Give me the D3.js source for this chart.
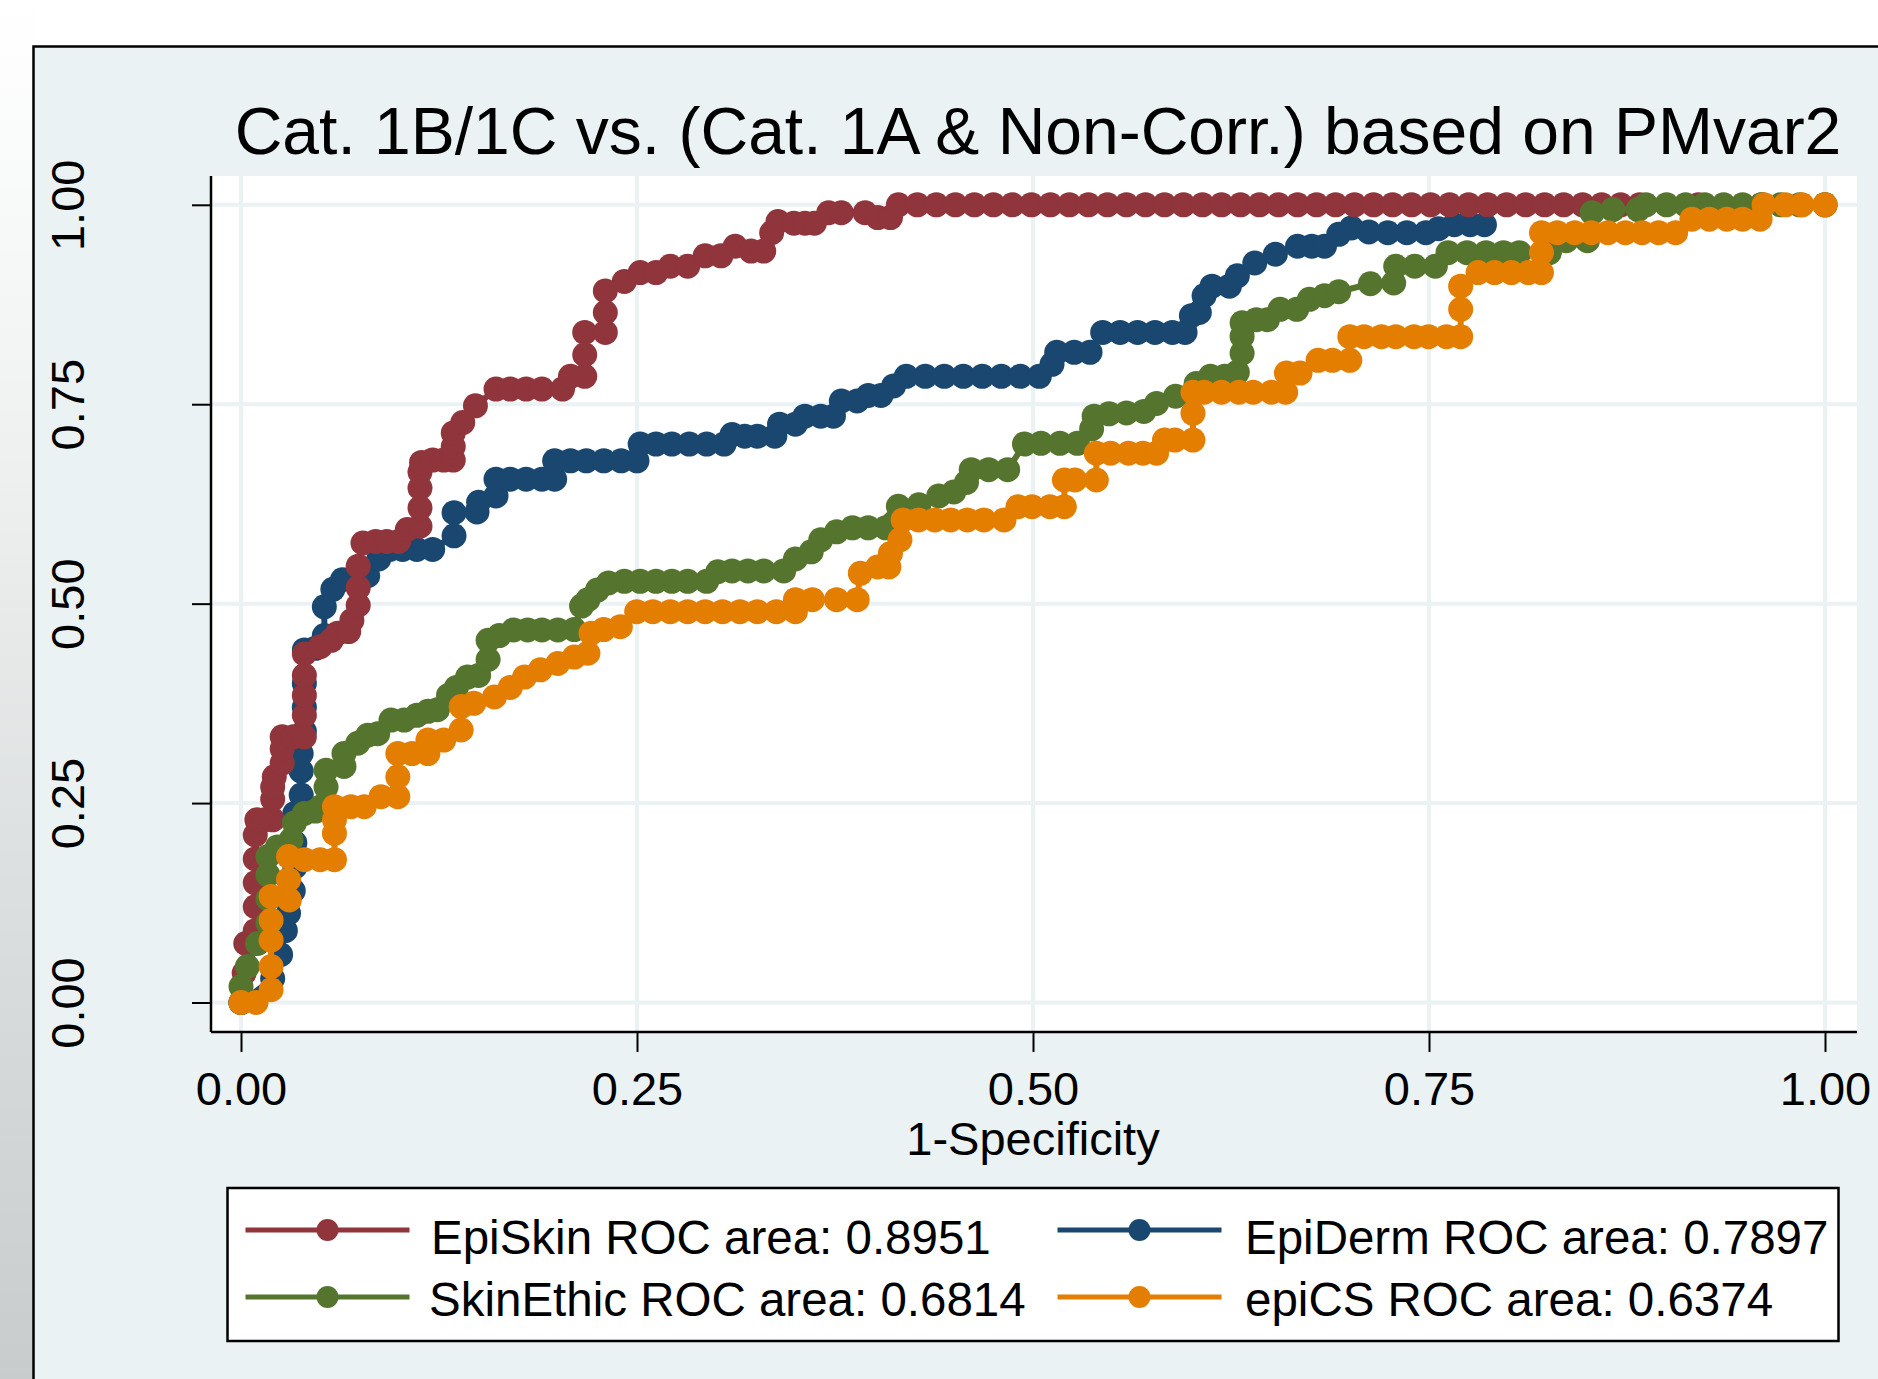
<!DOCTYPE html>
<html>
<head>
<meta charset="utf-8">
<script src="https://cdn.jsdelivr.net/npm/d3@7"></script>
<style>
  html, body { margin: 0; padding: 0; background: #ffffff; }
  svg { display: block; }
  text { font-family: "Liberation Sans", Arial, sans-serif; fill: #000; }
</style>
</head>
<body>
<svg id="chart" width="1878" height="1379"></svg>
<script>
// ---------------- DATA ----------------
const chartTitle = "Cat. 1B/1C vs. (Cat. 1A & Non-Corr.) based on PMvar2";
const xAxisTitle = "1-Specificity";
const xTickValues = [0, 0.25, 0.5, 0.75, 1];
const xTickLabels = ["0.00", "0.25", "0.50", "0.75", "1.00"];
const yTickValues = [0, 0.25, 0.5, 0.75, 1];
const yTickLabels = ["0.00", "0.25", "0.50", "0.75", "1.00"];

const seriesNames = ["EpiSkin", "EpiDerm", "SkinEthic", "epiCS"];
const rocAreas = ["0.8951", "0.7897", "0.6814", "0.6374"];
const seriesColors = ["#90353B", "#1A476F", "#55752F", "#E37E00"];

// [1-specificity, sensitivity]
const epiSkin = [
  [0,0],[0.002,0.037],[0.003,0.074],[0.009,0.09],[0.009,0.12],[0.009,0.15],[0.009,0.18],[0.009,0.21],
  [0.010,0.229],[0.015,0.229],[0.020,0.229],[0.020,0.255],[0.020,0.27],[0.021,0.283],[0.026,0.30],
  [0.026,0.318],[0.026,0.333],[0.033,0.333],[0.040,0.333],[0.040,0.36],[0.040,0.385],[0.040,0.41],
  [0.040,0.437],[0.050,0.446],[0.057,0.454],[0.061,0.463],[0.068,0.465],[0.070,0.479],[0.074,0.498],
  [0.074,0.52],[0.074,0.547],[0.077,0.576],[0.085,0.578],[0.092,0.578],[0.0995,0.578],[0.105,0.593],
  [0.113,0.597],[0.113,0.62],[0.113,0.645],[0.113,0.665],[0.114,0.677],[0.121,0.68],[0.128,0.68],
  [0.134,0.68],[0.134,0.697],[0.134,0.714],[0.140,0.727],[0.148,0.748],[0.161,0.769],[0.170,0.769],
  [0.180,0.769],[0.190,0.769],[0.203,0.769],[0.208,0.785],[0.217,0.785],[0.217,0.812],[0.217,0.84],
  [0.230,0.84],[0.230,0.865],[0.230,0.892],[0.242,0.904],[0.252,0.915],[0.262,0.915],[0.271,0.923],
  [0.282,0.923],[0.293,0.936],[0.303,0.936],[0.312,0.948],[0.322,0.942],[0.330,0.942],[0.335,0.965],
  [0.339,0.979],[0.349,0.977],[0.356,0.977],[0.362,0.977],[0.371,0.990],[0.379,0.990],[0.394,0.990],
  [0.402,0.984],[0.410,0.984],[0.415,1.0],[0.427,1.0],[0.439,1.0],[0.451,1.0],[0.463,1.0],[0.475,1.0],
  [0.487,1.0],[0.499,1.0],[0.511,1.0],[0.523,1.0],[0.535,1.0],[0.547,1.0],[0.559,1.0],[0.571,1.0],
  [0.583,1.0],[0.595,1.0],[0.607,1.0],[0.619,1.0],[0.631,1.0],[0.643,1.0],[0.655,1.0],[0.667,1.0],
  [0.679,1.0],[0.691,1.0],[0.703,1.0],[0.715,1.0],[0.727,1.0],[0.739,1.0],[0.751,1.0],[0.763,1.0],
  [0.775,1.0],[0.787,1.0],[0.799,1.0],[0.811,1.0],[0.823,1.0],[0.835,1.0],[0.847,1.0],[0.859,1.0],
  [0.871,1.0],[0.883,1.0],[0.92,1.0],[0.96,1.0],[1.0,1.0]
];

const epiDerm = [
  [0,0],[0.020,0.03],[0.025,0.06],[0.028,0.09],[0.030,0.112],[0.033,0.14],[0.034,0.17],[0.034,0.20],
  [0.034,0.237],[0.038,0.26],[0.038,0.29],[0.038,0.312],[0.040,0.34],[0.040,0.37],[0.040,0.40],
  [0.040,0.442],[0.047,0.444],[0.0526,0.46],[0.0526,0.496],[0.058,0.518],[0.064,0.530],[0.072,0.535],
  [0.080,0.535],[0.087,0.556],[0.094,0.568],[0.102,0.568],[0.111,0.568],[0.121,0.568],[0.1345,0.585],
  [0.1345,0.614],[0.149,0.615],[0.150,0.627],[0.161,0.635],[0.161,0.656],[0.170,0.656],[0.180,0.656],
  [0.190,0.656],[0.198,0.656],[0.198,0.679],[0.208,0.679],[0.218,0.679],[0.229,0.679],[0.240,0.679],
  [0.250,0.679],[0.252,0.700],[0.262,0.700],[0.272,0.700],[0.283,0.700],[0.294,0.700],[0.305,0.700],
  [0.310,0.712],[0.318,0.710],[0.326,0.710],[0.337,0.710],[0.340,0.725],[0.350,0.725],[0.356,0.735],
  [0.366,0.735],[0.374,0.735],[0.379,0.754],[0.389,0.754],[0.396,0.761],[0.404,0.761],[0.412,0.773],
  [0.420,0.785],[0.432,0.785],[0.444,0.785],[0.456,0.785],[0.468,0.785],[0.480,0.785],[0.492,0.785],
  [0.504,0.785],[0.512,0.800],[0.515,0.815],[0.526,0.815],[0.536,0.815],[0.544,0.840],[0.555,0.840],
  [0.566,0.840],[0.577,0.840],[0.588,0.840],[0.596,0.840],[0.600,0.861],[0.605,0.865],[0.608,0.886],
  [0.613,0.898],[0.624,0.898],[0.629,0.911],[0.640,0.927],[0.653,0.938],[0.667,0.948],[0.676,0.948],
  [0.684,0.948],[0.693,0.963],[0.701,0.971],[0.712,0.966],[0.724,0.965],[0.736,0.965],[0.748,0.965],
  [0.756,0.970],[0.766,0.975],[0.776,0.975],[0.785,0.975]
];

const skinEthic = [
  [0,0],[0,0.02],[0.004,0.045],[0.0105,0.074],[0.017,0.10],[0.017,0.13],[0.017,0.16],[0.017,0.183],
  [0.023,0.195],[0.0316,0.204],[0.0337,0.225],[0.040,0.237],[0.047,0.24],[0.0505,0.2455],[0.0537,0.27],
  [0.0537,0.291],[0.065,0.296],[0.065,0.312],[0.0737,0.325],[0.080,0.335],[0.0863,0.337],[0.0947,0.354],
  [0.103,0.354],[0.111,0.360],[0.118,0.365],[0.124,0.367],[0.131,0.385],[0.136,0.395],[0.143,0.408],
  [0.150,0.410],[0.156,0.43],[0.156,0.454],[0.163,0.460],[0.172,0.467],[0.181,0.467],[0.190,0.467],
  [0.200,0.467],[0.2104,0.4675],[0.215,0.497],[0.219,0.505],[0.225,0.517],[0.232,0.526],[0.242,0.528],
  [0.252,0.528],[0.262,0.528],[0.272,0.528],[0.282,0.528],[0.294,0.528],[0.301,0.540],[0.310,0.541],
  [0.320,0.541],[0.330,0.541],[0.3426,0.541],[0.350,0.556],[0.360,0.565],[0.366,0.580],[0.376,0.590],
  [0.386,0.595],[0.396,0.595],[0.407,0.595],[0.412,0.601],[0.415,0.622],[0.428,0.624],[0.4405,0.635],
  [0.450,0.640],[0.458,0.652],[0.461,0.668],[0.472,0.668],[0.484,0.668],[0.4946,0.700],[0.505,0.701],
  [0.517,0.701],[0.528,0.701],[0.537,0.719],[0.5386,0.735],[0.548,0.738],[0.559,0.739],[0.570,0.741],
  [0.578,0.751],[0.590,0.760],[0.603,0.776],[0.612,0.785],[0.621,0.785],[0.629,0.790],[0.632,0.814],
  [0.632,0.835],[0.632,0.852],[0.641,0.856],[0.648,0.856],[0.656,0.869],[0.6665,0.869],[0.6745,0.8815],
  [0.684,0.886],[0.693,0.891],[0.713,0.901],[0.7277,0.902],[0.729,0.923],[0.741,0.923],[0.754,0.923],
  [0.762,0.940],[0.774,0.940],[0.786,0.940],[0.797,0.940],[0.807,0.940],[0.826,0.940],[0.8366,0.955],
  [0.850,0.955],[0.853,0.990],[0.866,0.994],[0.882,0.994],[0.887,1.0],[0.900,1.0],[0.912,1.0],
  [0.924,1.0],[0.936,1.0],[0.948,1.0],[0.960,1.0],[0.972,1.0],[0.984,1.0],[1.0,1.0]
];

const epiCS = [
  [0,0],[0.0095,0],[0.019,0.016],[0.019,0.045],[0.019,0.078],[0.019,0.103],[0.019,0.133],[0.0305,0.1285],
  [0.030,0.154],[0.030,0.183],[0.040,0.179],[0.050,0.179],[0.059,0.179],[0.059,0.212],[0.059,0.229],
  [0.059,0.2455],[0.0694,0.2455],[0.0778,0.2455],[0.0884,0.258],[0.099,0.258],[0.099,0.283],[0.099,0.312],
  [0.108,0.312],[0.118,0.312],[0.118,0.329],[0.128,0.329],[0.139,0.3416],[0.139,0.371],[0.147,0.375],
  [0.160,0.383],[0.170,0.395],[0.179,0.408],[0.189,0.417],[0.200,0.425],[0.2104,0.433],[0.219,0.4378],
  [0.221,0.463],[0.229,0.4675],[0.2395,0.471],[0.2498,0.490],[0.260,0.490],[0.271,0.490],[0.282,0.490],
  [0.293,0.490],[0.304,0.490],[0.315,0.490],[0.326,0.490],[0.338,0.490],[0.350,0.490],[0.350,0.505],
  [0.3607,0.505],[0.376,0.505],[0.389,0.505],[0.391,0.538],[0.402,0.546],[0.409,0.546],[0.410,0.563],
  [0.416,0.580],[0.418,0.605],[0.4277,0.605],[0.438,0.605],[0.448,0.605],[0.4585,0.605],[0.469,0.605],
  [0.4817,0.605],[0.4905,0.6215],[0.4994,0.6215],[0.5107,0.6215],[0.5198,0.6215],[0.5198,0.655],
  [0.5265,0.655],[0.540,0.655],[0.540,0.6885],[0.549,0.6885],[0.5603,0.6885],[0.5694,0.6885],[0.578,0.6885],
  [0.583,0.705],[0.5896,0.705],[0.601,0.705],[0.601,0.7386],[0.601,0.765],[0.608,0.765],[0.619,0.765],
  [0.630,0.765],[0.639,0.765],[0.6505,0.765],[0.6595,0.765],[0.660,0.789],[0.6686,0.789],[0.680,0.805],
  [0.689,0.805],[0.700,0.805],[0.700,0.8347],[0.709,0.8347],[0.720,0.8347],[0.729,0.8347],[0.7405,0.8347],
  [0.7497,0.8347],[0.761,0.8347],[0.770,0.8347],[0.770,0.869],[0.770,0.898],[0.781,0.915],[0.7914,0.915],
  [0.802,0.915],[0.8127,0.915],[0.821,0.915],[0.821,0.940],[0.821,0.965],[0.831,0.965],[0.842,0.965],
  [0.8525,0.965],[0.863,0.965],[0.874,0.965],[0.8845,0.965],[0.895,0.965],[0.9057,0.965],[0.916,0.982],
  [0.927,0.982],[0.938,0.982],[0.948,0.982],[0.959,0.982],[0.9615,1.0],[0.975,1.0],[0.9855,1.0],[1.0,1.0]
];

const seriesData = [epiSkin, epiDerm, skinEthic, epiCS];
// drawing order (back to front) as seen in the picture
const drawOrder = [1, 0, 2, 3];

// ---------------- LAYOUT ----------------
const W = 1878, H = 1379;
const svg = d3.select("#chart");
const panelBg = "#EAF2F3";

const defs = svg.append("defs");
const lg = defs.append("linearGradient").attr("id", "leftStrip")
  .attr("x1", 0).attr("y1", 0).attr("x2", 0).attr("y2", 1);
lg.append("stop").attr("offset", "0%").attr("stop-color", "#ffffff");
lg.append("stop").attr("offset", "25%").attr("stop-color", "#f3f5f5");
lg.append("stop").attr("offset", "70%").attr("stop-color", "#d9dcdc");
lg.append("stop").attr("offset", "100%").attr("stop-color", "#c9cccc");
svg.append("rect").attr("x", 0).attr("y", 0).attr("width", W).attr("height", H).attr("fill", "#ffffff");
svg.append("rect").attr("x", 0).attr("y", 0).attr("width", 34).attr("height", H).attr("fill", "url(#leftStrip)");

// graph region panel
svg.append("rect")
  .attr("x", 33.5).attr("y", 46.5)
  .attr("width", W).attr("height", H)
  .attr("fill", panelBg).attr("stroke", "#000").attr("stroke-width", 2.5);

// plot region
const plotLeft = 211, plotRight = 1857, plotTop = 176, plotBottom = 1032;
svg.append("rect")
  .attr("x", plotLeft).attr("y", plotTop)
  .attr("width", plotRight - plotLeft).attr("height", plotBottom - plotTop)
  .attr("fill", "#ffffff");

const x = d3.scaleLinear().domain([0, 1]).range([241, 1825]);
const y = d3.scaleLinear().domain([0, 1]).range([1002.5, 204.8]);

// grid
const grid = svg.append("g");
grid.selectAll("line.vg").data(xTickValues).join("line")
  .attr("x1", d => x(d)).attr("x2", d => x(d))
  .attr("y1", plotTop).attr("y2", plotBottom)
  .attr("stroke", panelBg).attr("stroke-width", 4);
grid.selectAll("line.hg").data(yTickValues).join("line")
  .attr("y1", d => y(d)).attr("y2", d => y(d))
  .attr("x1", plotLeft).attr("x2", plotRight)
  .attr("stroke", panelBg).attr("stroke-width", 4);

// axes
const xAxis = d3.axisBottom(x).tickValues(xTickValues)
  .tickFormat((d, i) => xTickLabels[i]).tickSize(20).tickSizeOuter(0);
const gx = svg.append("g").attr("transform", `translate(0,${plotBottom})`).call(xAxis);
gx.select(".domain").attr("d", `M${plotLeft},0H${plotRight}`).attr("stroke", "#000").attr("stroke-width", 2.5);
gx.selectAll(".tick line").attr("stroke", "#000").attr("stroke-width", 2);
gx.selectAll(".tick text")
  .attr("y", 73).attr("dy", 0)
  .style("font-size", "47px").style("font-family", "Liberation Sans, Arial, sans-serif").attr("fill", "#000");

const yAxis = d3.axisLeft(y).tickValues(yTickValues)
  .tickFormat((d, i) => yTickLabels[i]).tickSize(19).tickSizeOuter(0);
const gy = svg.append("g").attr("transform", `translate(${plotLeft},0)`).call(yAxis);
gy.select(".domain").attr("d", `M0,${plotTop}V${plotBottom}`).attr("stroke", "#000").attr("stroke-width", 2.5);
gy.selectAll(".tick line").attr("stroke", "#000").attr("stroke-width", 2);
gy.selectAll(".tick text")
  .attr("x", 0).attr("y", -127).attr("dy", 0)
  .attr("transform", "rotate(-90)")
  .attr("text-anchor", "middle")
  .style("font-size", "47px").style("font-family", "Liberation Sans, Arial, sans-serif").attr("fill", "#000");

// title & axis title
svg.append("text").attr("x", 1038).attr("y", 154).attr("text-anchor", "middle")
  .style("font-size", "66px").text(chartTitle);
svg.append("text").attr("x", x(0.5)).attr("y", 1155).attr("text-anchor", "middle")
  .style("font-size", "47px").text(xAxisTitle);

// series
const line = d3.line().x(d => x(d[0])).y(d => y(d[1]));
drawOrder.forEach(i => {
  const data = seriesData[i];
  const g = svg.append("g");
  g.append("path").datum(data).attr("d", line)
    .attr("fill", "none").attr("stroke", seriesColors[i])
    .attr("stroke-width", 6).attr("stroke-linejoin", "round");
  g.selectAll("circle").data(data).join("circle")
    .attr("cx", d => x(d[0])).attr("cy", d => y(d[1])).attr("r", 12.5)
    .attr("fill", seriesColors[i]);
});

// legend
const legX = 227.5, legY = 1188, legW = 1611, legH = 153;
svg.append("rect").attr("x", legX).attr("y", legY).attr("width", legW).attr("height", legH)
  .attr("fill", "#ffffff").attr("stroke", "#000").attr("stroke-width", 2.5);
const legendPos = [
  { lx1: 245.5, lx2: 409.5, ly: 1230, tx: 431, ty: 1254 },
  { lx1: 1057.5, lx2: 1221.5, ly: 1230, tx: 1245, ty: 1254 },
  { lx1: 245.5, lx2: 409.5, ly: 1297, tx: 429, ty: 1316 },
  { lx1: 1057.5, lx2: 1221.5, ly: 1297, tx: 1245, ty: 1316 }
];
seriesNames.forEach((name, i) => {
  const p = legendPos[i];
  svg.append("line").attr("x1", p.lx1).attr("x2", p.lx2).attr("y1", p.ly).attr("y2", p.ly)
    .attr("stroke", seriesColors[i]).attr("stroke-width", 5);
  svg.append("circle").attr("cx", (p.lx1 + p.lx2) / 2).attr("cy", p.ly).attr("r", 11)
    .attr("fill", seriesColors[i]);
  svg.append("text").attr("x", p.tx).attr("y", p.ty)
    .style("font-size", "47.5px").text(`${name} ROC area: ${rocAreas[i]}`);
});
</script>
</body>
</html>
